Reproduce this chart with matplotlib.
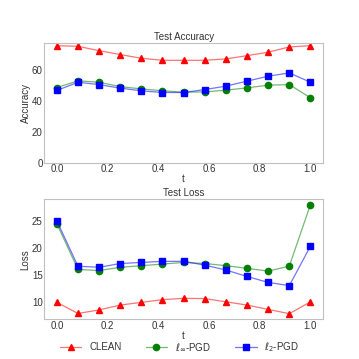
import matplotlib.pyplot as plt
import matplotlib.colors as mcolors
import numpy as np

t = np.linspace(0, 1, 13)

acc_clean = [75.4, 75.0, 72.2, 69.7, 67.3, 66.0, 66.0, 66.0, 66.9, 69.0, 71.2, 74.6, 75.4]
acc_linf = [48.5, 52.8, 51.9, 49.1, 47.6, 46.4, 45.5, 45.7, 46.8, 48.3, 50.0, 50.4, 41.9]
acc_l2 = [46.6, 51.9, 50.4, 48.1, 46.4, 45.3, 45.3, 47.2, 49.4, 52.6, 55.8, 57.9, 51.9]

loss_clean = [10.0, 7.95, 8.6, 9.5, 10.0, 10.5, 10.75, 10.7, 10.1, 9.5, 8.7, 7.9, 10.1]
loss_linf = [24.6, 16.1, 15.9, 16.5, 16.8, 17.1, 17.4, 17.2, 16.8, 16.3, 15.8, 16.7, 28.1]
loss_l2 = [25.1, 16.7, 16.5, 17.2, 17.4, 17.6, 17.6, 16.9, 16.0, 14.8, 13.7, 13.1, 20.4]

labels = ['CLEAN', r'$\ell_\infty$-PGD', r'$\ell_2$-PGD']
colors = ['red', 'green', 'blue']
markers = ['^', 'o', 's']

plt.style.use('seaborn-v0_8-white')
plt.rcParams['text.color'] = '#333333'
plt.rcParams['axes.labelcolor'] = '#333333'
plt.rcParams['xtick.color'] = '#333333'
plt.rcParams['ytick.color'] = '#333333'

fig, (ax1, ax2) = plt.subplots(2, 1, figsize=(3.59, 3.59), dpi=100)


def draw(ax, series):
    handles = []
    for ys, c, m, lab in zip(series, colors, markers, labels):
        h, = ax.plot(t, ys, color=(*mcolors.to_rgb(c), 0.55), marker=m, markersize=4.5,
                     linewidth=0.9, markerfacecolor=c, markeredgecolor=c, label=lab)
        handles.append(h)
    return handles


draw(ax1, [acc_clean, acc_linf, acc_l2])
ax1.set_ylim(bottom=0)
ax1.set_title('Test Accuracy', fontsize=7, pad=2)
ax1.set_ylabel('Accuracy', fontsize=7, labelpad=1)
ax1.set_xlabel('t', fontsize=7, labelpad=0)
ax1.set_yticks([0, 20, 40, 60])

handles = draw(ax2, [loss_clean, loss_linf, loss_l2])
ax2.set_title('Test Loss', fontsize=7, pad=2)
ax2.set_ylabel('Loss', fontsize=7, labelpad=1)
ax2.set_xlabel('t', fontsize=7, labelpad=0)
ax2.set_yticks([10, 15, 20, 25])

for ax in (ax1, ax2):
    ax.set_xticks([0.0, 0.2, 0.4, 0.6, 0.8, 1.0])
    ax.tick_params(labelsize=7, pad=1)
    for s in ax.spines.values():
        s.set_color('#c0c0c0')
        s.set_linewidth(0.8)

ax1.set_position([0.123, 0.546, 0.777, 0.334])
ax2.set_position([0.123, 0.111, 0.777, 0.334])

fig.legend(handles, labels, loc='lower center', ncol=3, frameon=False, fontsize=7,
           bbox_to_anchor=(0.5, -0.01), handlelength=2.2, columnspacing=2.5)

fig.savefig('out.png', dpi=100)
